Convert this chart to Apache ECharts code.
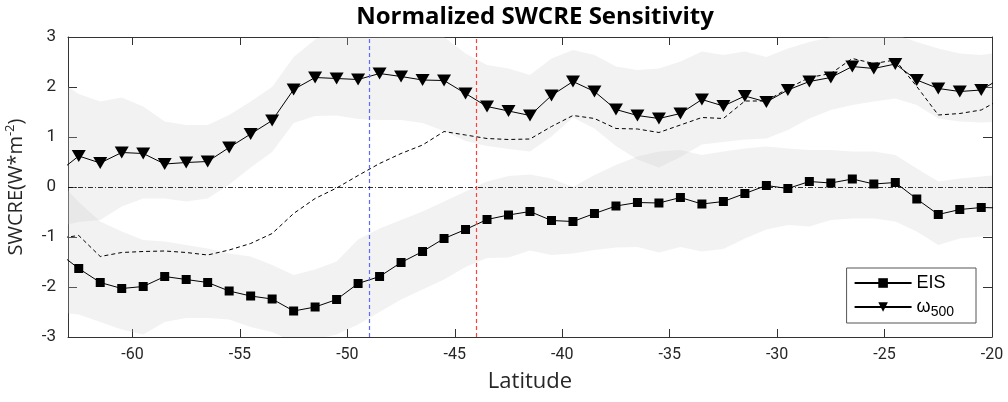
<!DOCTYPE html>
<html>
<head>
<meta charset="utf-8">
<script src="https://cdn.jsdelivr.net/npm/echarts@6/dist/echarts.min.js"></script>
<style>
  html, body { margin: 0; padding: 0; background: #fff; }
  #chart { width: 1008px; height: 402px; }
</style>
</head>
<body>
<div id="chart"></div>
<script>
// Latitude of each sample (degrees)
const lats = [-63.5, -62.5, -61.5, -60.5, -59.5, -58.5, -57.5, -56.5, -55.5, -54.5,
              -53.5, -52.5, -51.5, -50.5, -49.5, -48.5, -47.5, -46.5, -45.5, -44.5,
              -43.5, -42.5, -41.5, -40.5, -39.5, -38.5, -37.5, -36.5, -35.5, -34.5,
              -33.5, -32.5, -31.5, -30.5, -29.5, -28.5, -27.5, -26.5, -25.5, -24.5,
              -23.5, -22.5, -21.5, -20.5, -19.5];

// SWCRE sensitivity to EIS
const eis = [-1.30, -1.63, -1.91, -2.03, -1.99, -1.79, -1.85, -1.91, -2.08, -2.18,
             -2.24, -2.48, -2.40, -2.25, -1.93, -1.79, -1.51, -1.29, -1.03, -0.85,
             -0.65, -0.56, -0.49, -0.67, -0.69, -0.53, -0.38, -0.31, -0.32, -0.21,
             -0.34, -0.29, -0.13, 0.03, -0.03, 0.11, 0.08, 0.16, 0.06, 0.09,
             -0.24, -0.55, -0.45, -0.41, -0.42];
const eisLo = [-2.50, -2.55, -2.70, -2.85, -2.95, -2.70, -2.62, -2.62, -2.65, -2.80,
               -2.90, -3.10, -3.05, -2.95, -2.75, -2.50, -2.25, -2.05, -1.85, -1.60,
               -1.42, -1.41, -1.27, -1.36, -1.33, -1.26, -1.21, -1.20, -1.31, -1.20,
               -1.29, -1.24, -1.03, -0.85, -0.76, -0.79, -0.66, -0.63, -0.63, -0.69,
               -0.89, -1.16, -1.03, -0.99, -0.95];
const eisHi = [0.15, -0.30, -0.69, -0.89, -1.06, -1.09, -1.16, -1.23, -1.33, -1.39,
               -1.56, -1.76, -1.65, -1.49, -1.05, -0.83, -0.66, -0.49, -0.29, -0.09,
               0.11, 0.22, 0.25, 0.17, 0.00, 0.24, 0.44, 0.61, 0.71, 0.74,
               0.64, 0.71, 0.77, 0.81, 0.77, 0.74, 0.74, 0.71, 0.71, 0.64,
               0.37, 0.11, 0.17, 0.21, 0.25];

// SWCRE sensitivity to omega500
const omega = [0.28, 0.62, 0.48, 0.69, 0.67, 0.46, 0.49, 0.51, 0.79, 1.06,
               1.33, 1.95, 2.19, 2.17, 2.15, 2.27, 2.21, 2.14, 2.13, 1.87,
               1.61, 1.52, 1.43, 1.83, 2.11, 1.91, 1.55, 1.43, 1.37, 1.47,
               1.75, 1.62, 1.82, 1.70, 1.94, 2.11, 2.19, 2.41, 2.37, 2.46,
               2.14, 1.97, 1.91, 1.94, 2.20];
const omegaLo = [-0.80, -0.70, -0.66, -0.39, -0.23, -0.23, -0.29, -0.23, 0.05, 0.39,
                 0.70, 1.28, 1.42, 1.43, 1.36, 1.34, 1.34, 1.28, 1.12, 0.92,
                 0.82, 0.76, 0.71, 1.01, 1.39, 1.17, 0.82, 0.55, 0.39, 0.60,
                 0.85, 0.90, 0.95, 0.97, 1.14, 1.37, 1.54, 1.64, 1.71, 1.77,
                 1.64, 1.37, 1.31, 1.29, 1.31];
const omegaHi = [2.15, 1.86, 1.71, 1.79, 1.61, 1.31, 1.24, 1.24, 1.44, 1.71,
                 2.00, 2.60, 2.95, 3.15, 3.25, 3.30, 3.25, 3.15, 3.00, 2.67,
                 2.44, 2.37, 2.24, 2.57, 2.74, 2.64, 2.41, 2.34, 2.37, 2.51,
                 2.71, 2.64, 2.71, 2.60, 2.77, 2.90, 3.00, 3.10, 3.10, 3.05,
                 2.90, 2.77, 2.67, 2.64, 2.70];

// Combined response (dashed)
const total = [-1.03, -0.97, -1.39, -1.31, -1.29, -1.28, -1.31, -1.36, -1.26, -1.13,
               -0.93, -0.53, -0.23, -0.02, 0.23, 0.47, 0.67, 0.84, 1.11, 1.04,
               0.97, 0.95, 0.96, 1.21, 1.43, 1.37, 1.17, 1.16, 1.09, 1.24,
               1.39, 1.37, 1.72, 1.72, 1.97, 2.19, 2.27, 2.57, 2.47, 2.54,
               2.01, 1.44, 1.47, 1.54, 1.78];

// Reference latitudes marked by vertical lines
const refLats = [-49, -44];
const xTicks = [-60, -55, -50, -45, -40, -35, -30, -25, -20];

const tickFont = "'Roboto', sans-serif";
const textFont = "'Open Sans', 'Noto Sans', sans-serif";
const axisColor = '#333333';

// Shaded envelope between lower and upper bounds, drawn as one polygon
function band(lo, hi, fill) {
  return function (params, api) {
    if (params.dataIndex !== 0) return null;
    const pts = [];
    for (let i = 0; i < lats.length; i++) pts.push(api.coord([lats[i], hi[i]]));
    for (let i = lats.length - 1; i >= 0; i--) pts.push(api.coord([lats[i], lo[i]]));
    return { type: 'polygon', shape: { points: pts }, style: { fill: fill } };
  };
}

const bandFill = 'rgba(200,200,200,0.24)';
const xBase = { type: 'value', min: -63, max: -20, splitLine: { show: false } };
const yBase = { type: 'value', min: -3, max: 3, interval: 1, splitLine: { show: false } };

const chart = echarts.init(document.getElementById('chart'));
chart.setOption({
  animation: false,
  backgroundColor: '#ffffff',
  title: {
    text: 'Normalized SWCRE Sensitivity',
    left: 530, top: 0, textAlign: 'center',
    textStyle: { fontFamily: textFont, fontWeight: 'bold', fontSize: 24, color: '#000' }
  },
  grid: { left: 68, right: 16, top: 37, bottom: 65, containLabel: false, outerBoundsMode: 'none' },
  legend: {
    orient: 'vertical', right: 32, top: 268,
    data: ['EIS', 'ω500'],
    itemWidth: 57, itemHeight: 12, itemGap: 6,
    padding: [6, 22, 4, 7],
    borderColor: '#555', borderWidth: 1, backgroundColor: '#fff',
    formatter: function (name) { return name === 'EIS' ? '{t|EIS}' : '{t|ω}{s|500}'; },
    textStyle: {
      color: '#000',
      rich: {
        t: { fontFamily: "'Liberation Sans', sans-serif", fontSize: 18, color: '#000' },
        s: { fontFamily: "'Liberation Sans', sans-serif", fontSize: 14, color: '#000', padding: [10, 0, 0, 0] }
      }
    }
  },
  xAxis: [
    Object.assign({}, xBase, {
      position: 'bottom',
      name: 'Latitude', nameLocation: 'middle', nameGap: 34,
      nameTextStyle: { fontFamily: textFont, fontSize: 22, color: '#262626' },
      axisLine: { onZero: false, lineStyle: { color: axisColor, width: 1 } },
      axisTick: { inside: true, length: 8, customValues: xTicks, lineStyle: { color: axisColor } },
      axisLabel: { customValues: xTicks, margin: 10, fontFamily: tickFont, fontSize: 16, color: '#262626' }
    }),
    Object.assign({}, xBase, {
      position: 'top',
      axisLine: { onZero: false, lineStyle: { color: axisColor, width: 1 } },
      axisTick: { inside: true, length: 8, customValues: xTicks, lineStyle: { color: axisColor } },
      axisLabel: { show: false }
    })
  ],
  yAxis: [
    Object.assign({}, yBase, {
      position: 'left',
      name: '{a|SWCRE(W*m}{b|-2}{a|)}', nameLocation: 'middle', nameGap: 40,
      nameTextStyle: {
        rich: {
          a: { fontFamily: textFont, fontSize: 20, color: '#262626' },
          b: { fontFamily: textFont, fontSize: 13, color: '#262626', padding: [0, 0, 11, 0] }
        }
      },
      axisLine: { onZero: false, lineStyle: { color: axisColor, width: 1 } },
      axisTick: { inside: true, length: 9, lineStyle: { color: axisColor } },
      axisLabel: { margin: 12, fontFamily: tickFont, fontSize: 17, color: '#262626' }
    }),
    Object.assign({}, yBase, {
      position: 'right',
      axisLine: { onZero: false, lineStyle: { color: axisColor, width: 1 } },
      axisTick: { inside: true, length: 9, lineStyle: { color: axisColor } },
      axisLabel: { show: false }
    })
  ],
  series: [
    {
      type: 'custom', name: 'EIS range', clip: true, silent: true, z: 1,
      data: lats.map((x, i) => [x, eisLo[i], eisHi[i]]),
      encode: { x: 0, y: [1, 2] },
      renderItem: band(eisLo, eisHi, bandFill)
    },
    {
      type: 'custom', name: 'omega range', clip: true, silent: true, z: 1,
      data: lats.map((x, i) => [x, omegaLo[i], omegaHi[i]]),
      encode: { x: 0, y: [1, 2] },
      renderItem: band(omegaLo, omegaHi, bandFill)
    },
    {
      type: 'line', name: 'total', z: 2, clip: true,
      data: lats.map((x, i) => [x, total[i]]),
      showSymbol: false, symbol: 'none',
      lineStyle: { color: '#000', width: 1, type: [4, 3] },
      markLine: {
        silent: true, symbol: 'none', label: { show: false }, animation: false,
        data: [
          { xAxis: refLats[0], lineStyle: { color: '#5b6bff', width: 1.2, type: [4, 3] } },
          { xAxis: refLats[1], lineStyle: { color: '#ff4040', width: 1.2, type: [4, 3] } },
          { yAxis: 0, lineStyle: { color: '#000', width: 0.8, type: [5, 2, 1, 2] } }
        ]
      }
    },
    {
      type: 'line', name: 'EIS', z: 3, clip: true,
      data: lats.map((x, i) => [x, eis[i]]),
      symbol: 'rect', symbolSize: 9,
      itemStyle: { color: '#000' },
      lineStyle: { color: '#000', width: 1 }
    },
    {
      type: 'line', name: 'ω500', z: 3, clip: true,
      data: lats.map((x, i) => [x, omega[i]]),
      symbol: 'triangle', symbolSize: [14, 12], symbolRotate: 180,
      itemStyle: { color: '#000' },
      lineStyle: { color: '#000', width: 1 }
    }
  ]
});
</script>
</body>
</html>
